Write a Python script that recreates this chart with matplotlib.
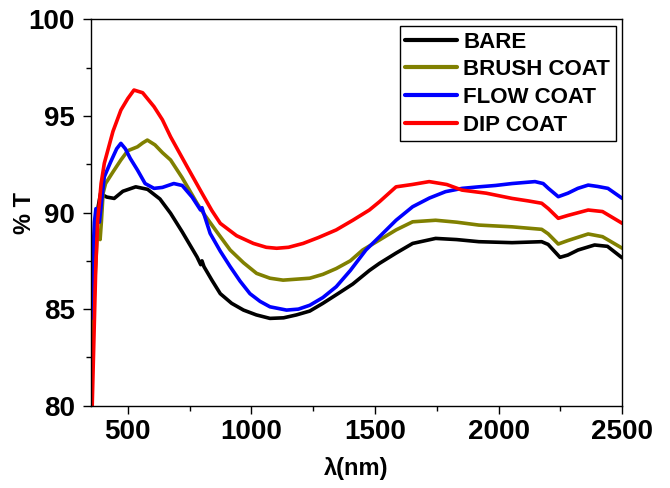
import matplotlib
matplotlib.use("Agg")
import matplotlib.pyplot as plt
from matplotlib.ticker import MultipleLocator

plt.rcParams['font.family'] = ['Liberation Sans', 'DejaVu Sans']
plt.rcParams['font.weight'] = 'bold'

labels = ["BARE", "BRUSH COAT", "FLOW COAT", "DIP COAT"]
colors = ["#000000", "#808000", "#0000ff", "#ff0000"]

bare_x = [352, 360, 370, 380, 390, 400, 415, 445, 480, 532, 580, 630, 673, 720, 780, 795, 800, 808, 840, 874,
          920, 968, 1020, 1075, 1130, 1182, 1236, 1289, 1350, 1410, 1477, 1518, 1585, 1652, 1745, 1830, 1920,
          2054, 2174, 2200, 2225, 2248, 2280, 2321, 2388, 2440, 2500]
bare_y = [81, 85.5, 88.5, 90.3, 91.0, 90.9, 90.8, 90.73, 91.1, 91.33, 91.2, 90.7, 89.96, 89.0, 87.7, 87.3, 87.5,
          87.2, 86.5, 85.8, 85.3, 84.95, 84.7, 84.52, 84.55, 84.7, 84.9, 85.3, 85.8, 86.3, 87.0, 87.37, 87.9,
          88.4, 88.66, 88.6, 88.49, 88.44, 88.49, 88.35, 88.0, 87.68, 87.8, 88.06, 88.32, 88.25, 87.65]

brush_x = [355, 365, 375, 382, 388, 393, 400, 410, 440, 472, 500, 539, 560, 579, 610, 640, 673, 720, 780, 806,
           860, 914, 968, 1021, 1075, 1128, 1182, 1236, 1289, 1343, 1400, 1450, 1518, 1585, 1652, 1745, 1830,
           1920, 2054, 2174, 2200, 2241, 2280, 2362, 2420, 2500]
brush_y = [82, 86, 88.5, 89.0, 88.6, 89.5, 91.0, 91.5, 92.1, 92.72, 93.2, 93.4, 93.6, 93.75, 93.5, 93.1, 92.72,
           91.8, 90.48, 89.96, 89.0, 88.06, 87.4, 86.85, 86.6, 86.5, 86.55, 86.6, 86.8, 87.1, 87.5, 88.06, 88.58,
           89.1, 89.52, 89.6, 89.5, 89.35, 89.26, 89.13, 88.9, 88.37, 88.55, 88.89, 88.75, 88.15]

flow_x = [352, 358, 365, 371, 378, 385, 395, 405, 430, 455, 472, 490, 510, 539, 570, 606, 640, 686, 720, 760,
          794, 800, 806, 833, 874, 914, 954, 994, 1035, 1075, 1142, 1190, 1236, 1289, 1343, 1400, 1463, 1518,
          1585, 1652, 1720, 1785, 1852, 1920, 1987, 2054, 2100, 2147, 2180, 2201, 2241, 2280, 2320, 2362, 2400,
          2442, 2500]
flow_y = [84.5, 87.5, 89.5, 90.2, 89.8, 89.5, 90.7, 91.85, 92.6, 93.3, 93.58, 93.3, 92.8, 92.2, 91.5, 91.25,
          91.3, 91.5, 91.4, 90.8, 90.13, 90.25, 90.0, 88.92, 88.0, 87.2, 86.45, 85.8, 85.4, 85.12, 84.95, 85.0,
          85.2, 85.6, 86.16, 87.0, 88.06, 88.75, 89.6, 90.3, 90.75, 91.08, 91.25, 91.33, 91.4, 91.5, 91.55, 91.6,
          91.5, 91.25, 90.82, 91.0, 91.25, 91.42, 91.35, 91.25, 90.73]

dip_x = [356, 362, 370, 378, 385, 392, 405, 440, 472, 500, 525, 560, 606, 640, 673, 740, 800, 840, 874, 940,
         1008, 1060, 1102, 1150, 1209, 1270, 1343, 1410, 1477, 1518, 1585, 1650, 1719, 1790, 1852, 1950, 2054,
         2120, 2174, 2201, 2241, 2280, 2362, 2420, 2500]
dip_y = [80, 83, 87, 89.6, 90.5, 91.5, 92.55, 94.2, 95.3, 95.9, 96.34, 96.2, 95.48, 94.8, 93.92, 92.37, 91.0,
         90.1, 89.44, 88.8, 88.4, 88.2, 88.15, 88.2, 88.4, 88.7, 89.1, 89.6, 90.13, 90.56, 91.33, 91.45, 91.6,
         91.45, 91.16, 91.0, 90.73, 90.6, 90.48, 90.2, 89.7, 89.85, 90.13, 90.05, 89.44]

series = [(bare_x, bare_y), (brush_x, brush_y), (flow_x, flow_y), (dip_x, dip_y)]

fig = plt.figure(figsize=(6.7, 4.88), dpi=100)
ax = fig.add_axes([0.1354, 0.1686, 0.9288 - 0.1354, 0.9604 - 0.1686])

for (xs, ys), lab, c in zip(series, labels, colors):
    ax.plot(xs, ys, color=c, lw=2.6, label=lab, solid_joinstyle='round', solid_capstyle='round')

ax.set_xlim(350, 2500)
ax.set_ylim(80, 100)
ax.xaxis.set_major_locator(MultipleLocator(500))
ax.xaxis.set_minor_locator(MultipleLocator(250))
ax.yaxis.set_major_locator(MultipleLocator(5))
ax.yaxis.set_minor_locator(MultipleLocator(2.5))
ax.tick_params(which='major', direction='out', length=5.5, width=1.0, labelsize=20)
ax.tick_params(which='minor', direction='out', length=3.5, width=1.0)
ax.tick_params(axis='x', which='major', pad=4)
ax.tick_params(axis='y', which='major', pad=6)
for lbl in ax.get_xticklabels() + ax.get_yticklabels():
    lbl.set_fontweight('bold')
for sp in ax.spines.values():
    sp.set_linewidth(1.0)

ax.set_xlabel("λ(nm)", fontsize=17, fontweight='bold')
ax.set_ylabel("% T", fontsize=17, fontweight='bold')
ax.xaxis.set_label_coords(0.5, -0.162)
ax.yaxis.set_label_coords(-0.124, 0.5)
ax.xaxis.label.set_va('center')
ax.yaxis.label.set_va('center')

leg = ax.legend(loc='upper right', frameon=True, fancybox=False, framealpha=1,
                edgecolor='black', handlelength=2.3, handletextpad=0.3, labelspacing=0.3,
                borderpad=0.25, borderaxespad=0.3, prop={'weight': 'bold', 'size': 16})
leg.get_frame().set_linewidth(1.0)
for line in leg.get_lines():
    line.set_linewidth(3)

fig.savefig("out.png", dpi=100)
